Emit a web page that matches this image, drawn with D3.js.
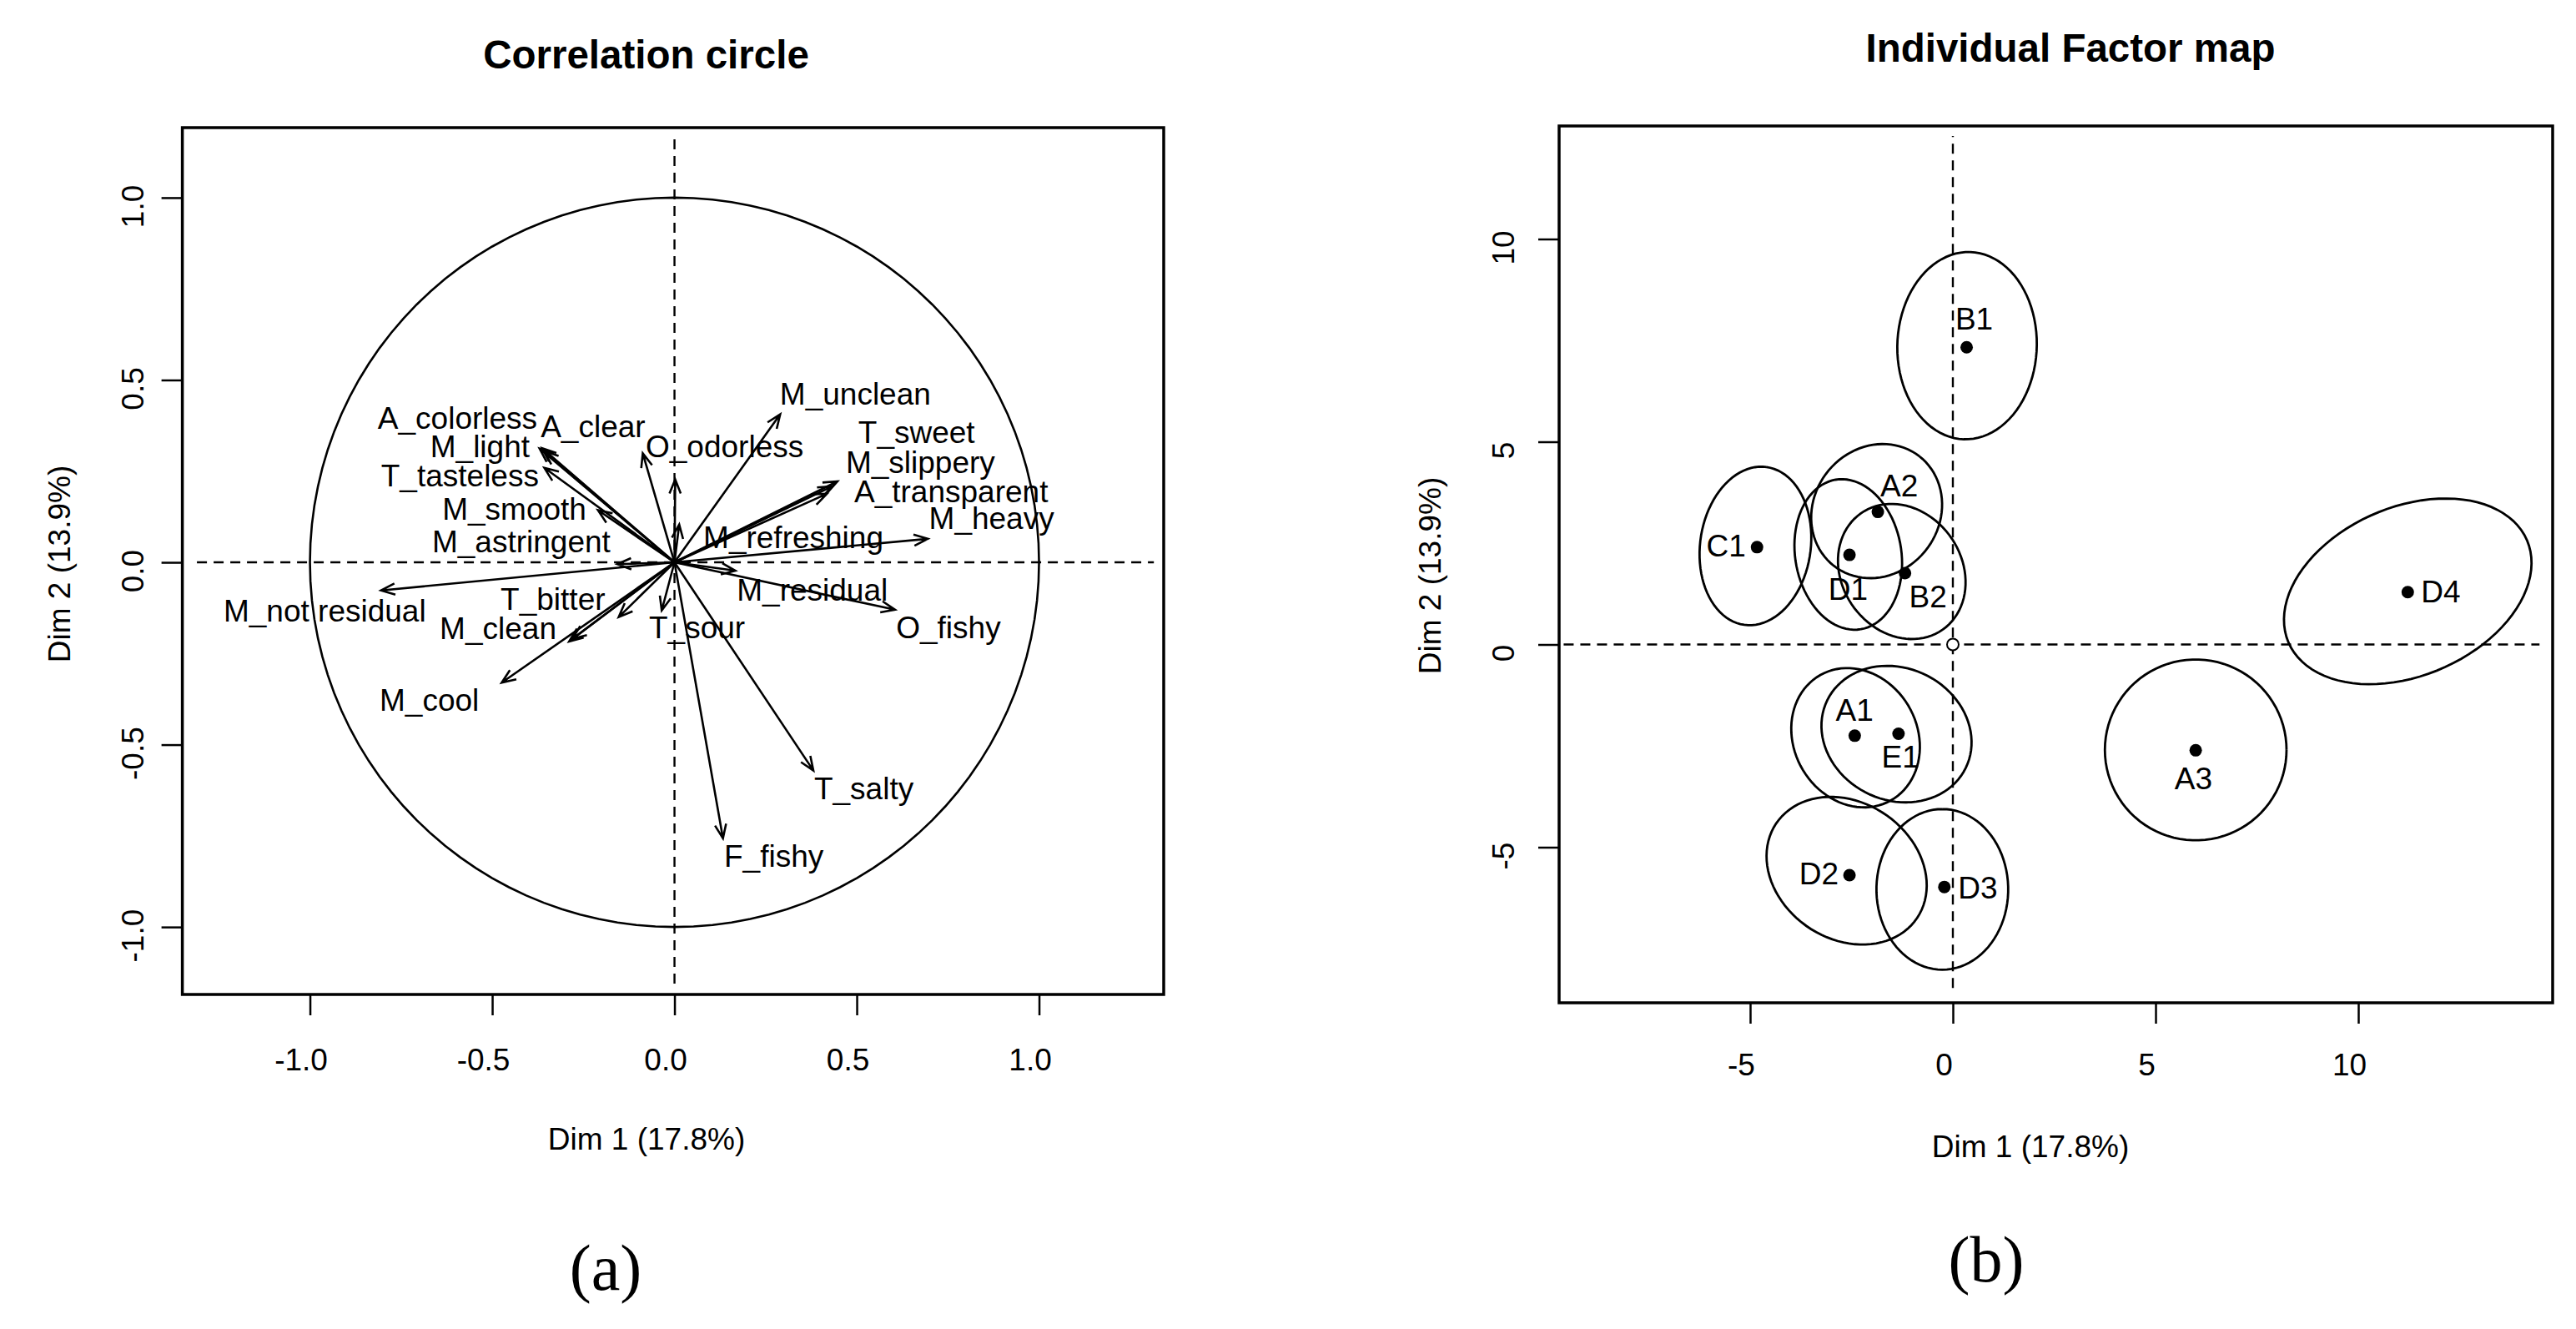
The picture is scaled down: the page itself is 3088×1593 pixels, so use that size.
<!DOCTYPE html>
<html lang="en">
<head>
<meta charset="UTF-8">
<title>Correlation circle / Individual Factor map</title>
<script src="https://d3js.org/d3.v7.min.js"></script>
<style>
    body { margin: 0; background: #fff; }
    svg text { font-family: "Liberation Sans", Arial, sans-serif; fill: #000; }
</style>
</head>
<body>
<div id="chart"></div>
<script>
    // ---- (a) variables: arrow tips on Dim 1 / Dim 2 ----
    const arrowDim1 = [-0.805, -0.363, -0.357, -0.370, -0.357, -0.210, -0.157, -0.087, 0.002, 0.013,
                       0.290, 0.447, 0.432, 0.418, 0.695, 0.167, 0.605, 0.381, 0.133, -0.035,
                       -0.153, -0.289, -0.280, -0.474];
    const arrowDim2 = [-0.077, 0.313, 0.305, 0.312, 0.259, 0.143, -0.005, 0.299, 0.227, 0.104,
                       0.406, 0.222, 0.208, 0.188, 0.0645, -0.023, -0.130, -0.571, -0.757, -0.132,
                       -0.150, -0.217, -0.210, -0.330];

    // variable labels, placed where the picture shows them (start of text, baseline)
    const varLabels = ["A_colorless", "A_clear", "M_light", "T_tasteless", "M_smooth", "M_astringent",
                       "O_odorless", "M_unclean", "T_sweet", "M_slippery", "A_transparent", "M_heavy",
                       "M_refreshing", "M_residual", "O_fishy", "M_not residual", "T_bitter", "M_clean",
                       "T_sour", "M_cool", "T_salty", "F_fishy"];
    const varLabelDim1 = [-0.814, -0.367, -0.670, -0.805, -0.637, -0.665,
                          -0.079, 0.289, 0.504, 0.470, 0.493, 0.698,
                          0.079, 0.171, 0.608, -1.237, -0.477, -0.644,
                          -0.070, -0.809, 0.383, 0.136];
    const varLabelDim2 = [0.367, 0.343, 0.288, 0.209, 0.117, 0.028,
                          0.288, 0.432, 0.327, 0.246, 0.165, 0.091,
                          0.038, -0.106, -0.207, -0.162, -0.130, -0.211,
                          -0.207, -0.408, -0.649, -0.835];

    // ---- (b) individuals ----
    const indNames = ["B1", "A2", "D1", "B2", "C1", "A1", "E1", "D2", "D3", "D4", "A3"];
    const indDim1 = [0.34, -1.85, -2.55, -1.18, -4.83, -2.42, -1.34, -2.55, -0.21, 11.22, 5.99];
    const indDim2 = [7.33, 3.27, 2.21, 1.76, 2.40, -2.25, -2.20, -5.69, -5.98, 1.29, -2.61];
    const indLabelDim1 = [0.06, -1.79, -3.07, -1.08, -6.08, -2.89, -1.76, -3.79, 0.13, 11.55, 5.47];
    const indLabelDim2 = [7.76, 3.66, 1.10, 0.92, 2.18, -1.89, -3.04, -5.91, -6.26, 1.04, -3.57];

    // confidence ellipses: centre, semi-axes, rotation (degrees)
    const ellCx = [0.35, -1.88, -2.58, -1.26, -4.87, -2.40, -1.39, -2.62, -0.26, 11.22, 5.99];
    const ellCy = [7.37, 3.29, 2.22, 1.80, 2.43, -2.30, -2.21, -5.58, -6.04, 1.31, -2.60];
    const ellA = [2.31, 1.714, 1.870, 1.753, 1.965, 1.774, 1.901, 2.093, 1.981, 3.20, 2.24];
    const ellB = [1.72, 1.551, 1.309, 1.477, 1.364, 1.523, 1.628, 1.685, 1.625, 2.08, 2.23];
    const ellAngle = [88, 52, -80.4, -54.8, 81.9, -60.8, -26, -33.8, 90, 23.2, 0];

    const corTicks = [-1, -0.5, 0, 0.5, 1];
    const indTicks = [-5, 0, 5, 10];

    const W = 3088, H = 1593;
    const svg = d3.select("#chart").append("svg")
        .attr("width", W).attr("height", H)
        .style("display", "block");
    svg.append("rect").attr("width", W).attr("height", H).attr("fill", "#fff");

    // R prints a plain hyphen for negatives
    const fmtCor = v => d3.format(".1f")(v).replace("\u2212", "-");
    const fmtInd = v => d3.format("d")(v).replace("\u2212", "-");

    // ---------- panel helpers ----------
    function frame(g, x, y) {
        g.append("rect")
            .attr("x", x.range()[0]).attr("y", y.range()[1])
            .attr("width", x.range()[1] - x.range()[0])
            .attr("height", y.range()[0] - y.range()[1])
            .attr("fill", "none").attr("stroke", "#000").attr("stroke-width", 3.5);
    }

    function axes(g, x, y, ticks, fmt, opt) {
        const bottom = y.range()[0], left = x.range()[0];
        const ax = g.append("g")
            .attr("transform", `translate(0,${bottom})`)
            .call(d3.axisBottom(x).tickValues(ticks).tickSize(25).tickFormat(fmt));
        ax.select(".domain").remove();
        ax.selectAll("line").attr("stroke-width", 2.5);
        ax.selectAll("text").attr("dy", null).attr("y", opt.xLabY).attr("x", -11);

        const ay = g.append("g")
            .attr("transform", `translate(${left},0)`)
            .call(d3.axisLeft(y).tickValues(ticks).tickSize(25).tickFormat(fmt));
        ay.select(".domain").remove();
        ay.selectAll("line").attr("stroke-width", 2.5);
        ay.selectAll("text")
            .attr("transform", "rotate(-90)")
            .attr("text-anchor", "middle")
            .attr("dy", null).attr("x", -10).attr("y", opt.yLabX);

        [ax, ay].forEach(a => a.attr("font-size", 37).attr("font-family", "Liberation Sans, Arial, sans-serif"));
    }

    function dashed(g, x, y, xr, yr) {
        g.append("line")
            .attr("x1", x(0)).attr("x2", x(0)).attr("y1", y(yr[0])).attr("y2", y(yr[1]))
            .attr("stroke", "#000").attr("stroke-width", 2.4).attr("stroke-dasharray", "12,8");
        g.append("line")
            .attr("x1", x(xr[0])).attr("x2", x(xr[1])).attr("y1", y(0)).attr("y2", y(0))
            .attr("stroke", "#000").attr("stroke-width", 2.4).attr("stroke-dasharray", "12,8");
    }

    function titles(g, t) {
        g.append("text").attr("x", t.tx).attr("y", t.ty)
            .attr("text-anchor", "middle").attr("font-size", 47.5).attr("font-weight", "bold")
            .text(t.title);
        g.append("text").attr("x", t.xlx).attr("y", t.xly)
            .attr("text-anchor", "middle").attr("font-size", 37)
            .text("Dim 1 (17.8%)");
        g.append("text")
            .attr("transform", `translate(${t.ylx},${t.yly}) rotate(-90)`)
            .attr("text-anchor", "middle").attr("font-size", 37)
            .text("Dim 2 (13.9%)");
        g.append("text").attr("x", t.px).attr("y", t.py)
            .attr("text-anchor", "middle").attr("font-size", 78)
            .style("font-family", "'Liberation Serif', 'DejaVu Serif', serif")
            .text(t.panel);
    }

    // ---------- (a) correlation circle ----------
    const gA = svg.append("g");
    const xA = d3.scaleLinear().domain([-1.35, 1.342]).range([218.6, 1395]);
    const yA = d3.scaleLinear().domain([-1.185, 1.192]).range([1192, 153]);

    frame(gA, xA, yA);
    axes(gA, xA, yA, corTicks, fmtCor, {xLabY: 91, yLabX: -46.6});
    dashed(gA, xA, yA, [-1.31, 1.315], [-1.155, 1.162]);

    gA.append("path")
        .datum(d3.range(0, 361, 3))
        .attr("d", d3.line()
            .x(d => xA(Math.cos(d * Math.PI / 180)))
            .y(d => yA(Math.sin(d * Math.PI / 180))))
        .attr("fill", "none").attr("stroke", "#000").attr("stroke-width", 2.6);

    const headLen = 18, headAng = 22 * Math.PI / 180;
    function arrowPath(x0, y0, x1, y1) {
        const ang = Math.atan2(y0 - y1, x0 - x1);
        const b1 = [x1 + headLen * Math.cos(ang + headAng), y1 + headLen * Math.sin(ang + headAng)];
        const b2 = [x1 + headLen * Math.cos(ang - headAng), y1 + headLen * Math.sin(ang - headAng)];
        return `M${x0},${y0}L${x1},${y1}M${b1[0]},${b1[1]}L${x1},${y1}L${b2[0]},${b2[1]}`;
    }

    gA.append("g").selectAll("path")
        .data(arrowDim1.map((d, i) => [d, arrowDim2[i]]))
        .join("path")
        .attr("d", d => arrowPath(xA(0), yA(0), xA(d[0]), yA(d[1])))
        .attr("fill", "none").attr("stroke", "#000").attr("stroke-width", 2.6)
        .attr("stroke-linejoin", "miter");

    gA.append("g").selectAll("text")
        .data(varLabels)
        .join("text")
        .attr("x", (d, i) => xA(varLabelDim1[i]))
        .attr("y", (d, i) => yA(varLabelDim2[i]))
        .attr("font-size", 37)
        .text(d => d);

    titles(gA, {title: "Correlation circle", tx: 774.5, ty: 81.6,
                xlx: 775, xly: 1378, ylx: 84, yly: 676, px: 726, py: 1546, panel: "(a)"});

    // ---------- (b) individual factor map ----------
    const gB = svg.append("g");
    const xB = d3.scaleLinear().domain([-9.712, 14.794]).range([1869, 3060]);
    const yB = d3.scaleLinear().domain([-8.837, 12.788]).range([1202, 151]);

    frame(gB, xB, yB);
    axes(gB, xB, yB, indTicks, fmtInd, {xLabY: 87, yLabX: -54});
    dashed(gB, xB, yB, [-9.6, 14.47], [-8.47, 12.54]);

    function ellipsePts(i) {
        const t = ellAngle[i] * Math.PI / 180;
        return d3.range(0, 361, 4).map(k => {
            const u = k * Math.PI / 180;
            return [ellCx[i] + ellA[i] * Math.cos(u) * Math.cos(t) - ellB[i] * Math.sin(u) * Math.sin(t),
                    ellCy[i] + ellA[i] * Math.cos(u) * Math.sin(t) + ellB[i] * Math.sin(u) * Math.cos(t)];
        });
    }
    const ellLine = d3.line().x(p => xB(p[0])).y(p => yB(p[1]));

    gB.append("g").selectAll("path")
        .data(ellCx.map((d, i) => ellipsePts(i)))
        .join("path")
        .attr("d", ellLine)
        .attr("fill", "none").attr("stroke", "#000").attr("stroke-width", 2.8);

    // mean point at the origin
    gB.append("circle").attr("cx", xB(0)).attr("cy", yB(0)).attr("r", 7)
        .attr("fill", "#fff").attr("stroke", "#000").attr("stroke-width", 2);

    gB.append("g").selectAll("circle")
        .data(indNames)
        .join("circle")
        .attr("cx", (d, i) => xB(indDim1[i]))
        .attr("cy", (d, i) => yB(indDim2[i]))
        .attr("r", 7.5)
        .attr("fill", "#000");

    gB.append("g").selectAll("text")
        .data(indNames)
        .join("text")
        .attr("x", (d, i) => xB(indLabelDim1[i]))
        .attr("y", (d, i) => yB(indLabelDim2[i]))
        .attr("font-size", 37)
        .text(d => d);

    titles(gB, {title: "Individual Factor map", tx: 2482, ty: 74,
                xlx: 2434, xly: 1387, ylx: 1727, yly: 690, px: 2381, py: 1536, panel: "(b)"});
</script>
</body>
</html>
